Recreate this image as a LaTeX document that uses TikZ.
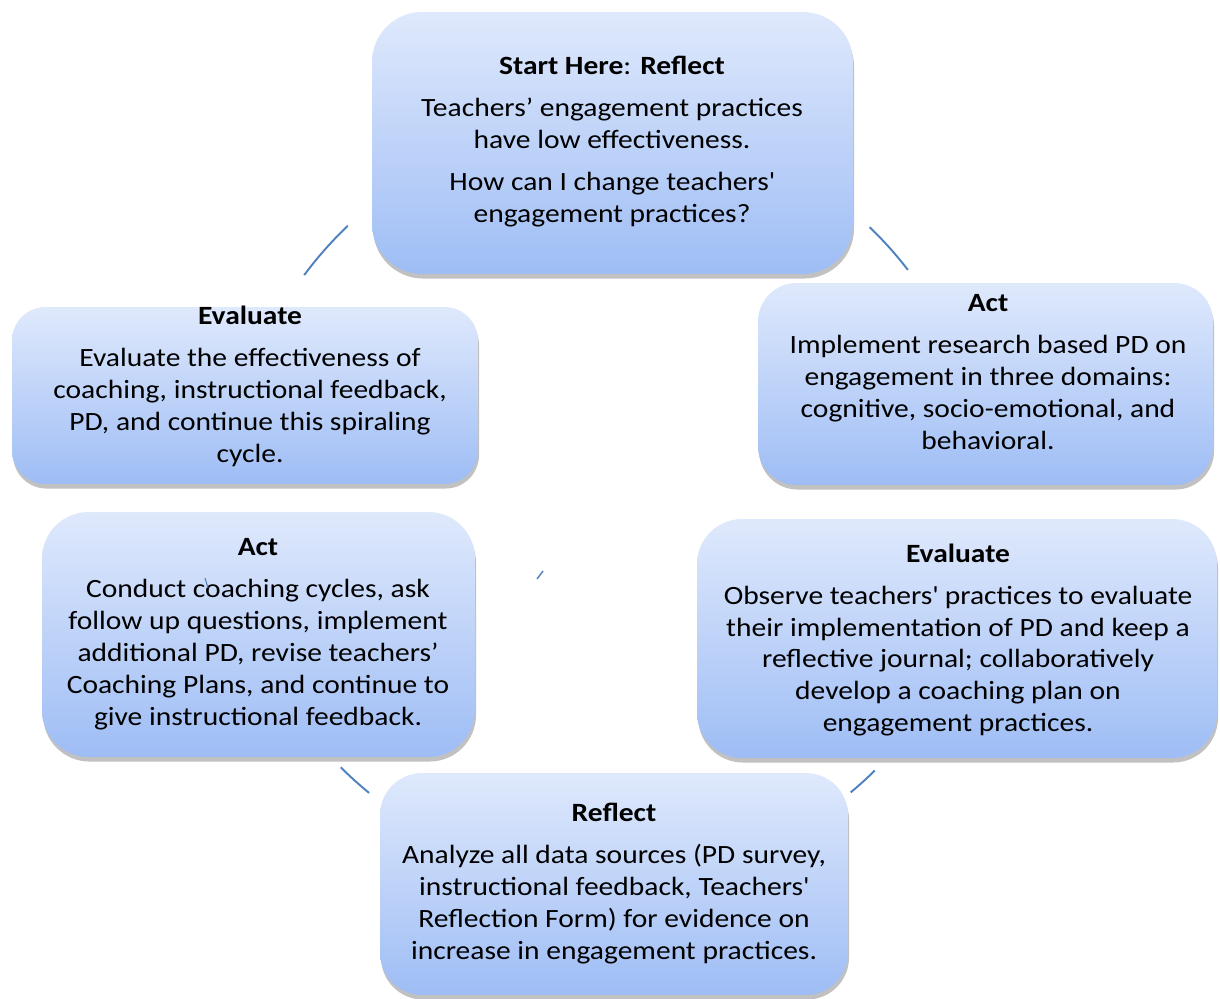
\documentclass[tikz,border=0pt]{standalone}
\usepackage{fontspec}
\setmainfont{Carlito}[FakeStretch=1.12]
\usetikzlibrary{shadows,calc}
\definecolor{boxtop}{RGB}{223,233,252}
\definecolor{boxbottom}{RGB}{158,189,245}
\definecolor{ringblue}{RGB}{79,129,189}

\begin{document}
\begin{tikzpicture}[x=0.02cm, y=-0.02cm, outer sep=0pt,
  card/.style={rectangle, inner sep=0pt, top color=boxtop, bottom color=boxbottom,
    drop shadow={shadow xshift=0.6pt, shadow yshift=-2.6pt, opacity=0.35, fill=black!70}},
  cardtext/.style={align=center, inner sep=0pt, font=\fontsize{15}{18.2}\selectfont},
  ring/.style={draw=ringblue, line width=1.1pt}]

\useasboundingbox (0,0) rectangle (1220,999);

% pieces of the cycle ring left between the boxes
\coordinate (hub) at (608,500);
    \draw [ring] (hub) ++(-143.5:378) arc[start angle=-143.5, end angle=-133.5, radius=378];
    \draw [ring] (hub) ++(-46.2:378) arc[start angle=-46.2, end angle=-37.5, radius=378];
    \draw [ring] (hub) ++(45.4:380) arc[start angle=45.4, end angle=50.3, radius=380];
    \draw [ring] (hub) ++(135:378) arc[start angle=135, end angle=129.2, radius=378];
\coordinate (tickA) at (537,579);
\coordinate (tickB) at (543,571);
    \draw [ring, line width=0.8pt] (tickA) -- (tickB);

% boxes
\node [card, rounded corners=1.0cm, minimum width=9.62cm, minimum height=5.24cm] at (612.5, 143) (start) {};
\node [card, rounded corners=0.77cm, minimum width=9.1cm, minimum height=4.04cm] at (985.5, 384) (actR) {};
\node [card, rounded corners=0.9cm, minimum width=10.4cm, minimum height=4.78cm] at (957, 638.5) (evalR) {};
\node [card, rounded corners=0.84cm, minimum width=9.36cm, minimum height=4.44cm] at (614, 884) (reflB) {};
\node [card, rounded corners=0.93cm, minimum width=8.66cm, minimum height=4.9cm] at (258.5, 634.5) (actL) {};
\node [card, rounded corners=0.67cm, minimum width=9.32cm, minimum height=3.54cm] at (245, 395.5) (evalL) {};

% texts
\node [cardtext] at (612, 142) (startText) {\textbf{Start Here}: \textbf{Reflect}\\[5.7pt]
  Teachers’ engagement practices\\ have low effectiveness.\\[5.7pt]
  How can I change teachers\textquotesingle\\ engagement practices?};
\node [cardtext] at (988, 372) (actRText) {\textbf{Act}\\[5.7pt]
  Implement research based PD on\\ engagement in three domains:\\
  cognitive, socio-emotional, and\\ behavioral.};
\node [cardtext] at (958, 640) (evalRText) {\textbf{Evaluate}\\[5.7pt]
  Observe teachers\textquotesingle{} practices to evaluate\\ their implementation of PD and keep a\\
  reflective journal; collaboratively\\ develop a coaching plan on\\ engagement practices.};
\node [cardtext] at (614, 884) (reflBText) {\textbf{Reflect}\\[5.7pt]
  Analyze all data sources (PD survey,\\ instructional feedback, Teachers\textquotesingle\\
  Reflection Form) for evidence on\\ increase in engagement practices.};
\node [cardtext] at (258, 634) (actLText) {\textbf{Act}\\[5.7pt]
  Conduct coaching cycles, ask\\ follow up questions, implement\\
  additional PD, revise teachers’\\ Coaching Plans, and continue to\\ give instructional feedback.};
\node [cardtext] at (250, 386) (evalLText) {\textbf{Evaluate}\\[5.7pt]
  Evaluate the effectiveness of\\ coaching, instructional feedback,\\
  PD, and continue this spiraling\\ cycle.};

\coordinate (tickC) at (205,578);
\coordinate (tickD) at (208,588);
    \draw [ring, line width=0.6pt] (tickC) -- (tickD);
\end{tikzpicture}
\end{document}
